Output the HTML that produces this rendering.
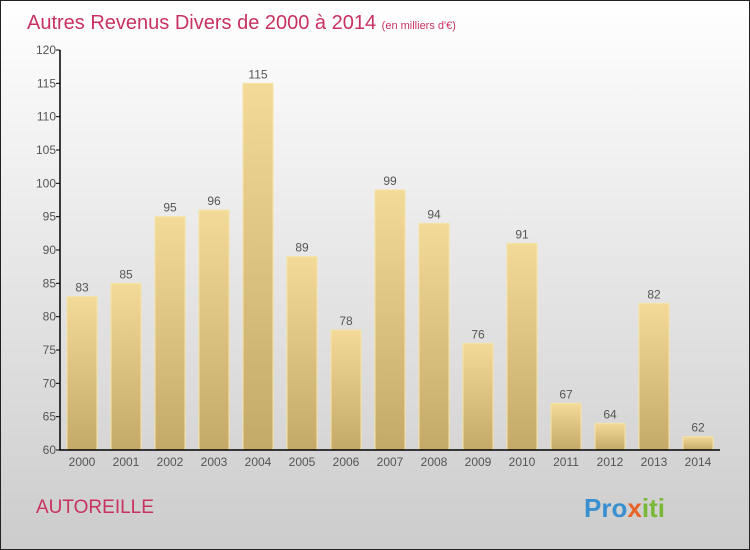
<!DOCTYPE html>
<html><head><meta charset="utf-8"><style>
body{margin:0}
svg{display:block;font-family:"Liberation Sans",sans-serif}
</style></head><body>
<svg id="c" width="750" height="550" xmlns="http://www.w3.org/2000/svg">
<defs>
<linearGradient id="bg" x1="0" y1="0" x2="0" y2="1"><stop offset="0" stop-color="#ffffff"/><stop offset="1" stop-color="#cccccc"/></linearGradient>
<linearGradient id="bar" x1="0" y1="0" x2="0" y2="1"><stop offset="0" stop-color="#f3da98"/><stop offset="1" stop-color="#c4aa68"/></linearGradient>
</defs>
<rect x="0.5" y="0.5" width="749" height="549" fill="url(#bg)" stroke="#222"/>
<text x="27" y="29" font-size="20" fill="#c8325f">Autres Revenus Divers de 2000 à 2014 <tspan font-size="11">(en milliers d'€)</tspan></text>
<g id="bars"></g>
<g id="axes"></g>
<text x="36" y="513" font-size="19" fill="#c8325f">AUTOREILLE</text>
<text x="584" y="517" font-size="26" font-weight="bold" fill="#3a8fd0">Pro<tspan fill="#e8632a">x</tspan><tspan fill="#7ab83a">iti</tspan></text>
</svg>
<script>
const years=["2000","2001","2002","2003","2004","2005","2006","2007","2008","2009","2010","2011","2012","2013","2014"];
const values=[83,85,95,96,115,89,78,99,94,76,91,67,64,82,62];
const yTicks=[60,65,70,75,80,85,90,95,100,105,110,115,120];
const NS="http://www.w3.org/2000/svg";
const y=v=>450-(v-60)*400/60;
const x=i=>82+i*44;
function mk(t,a,p){const e=document.createElementNS(NS,t);for(const k in a)e.setAttribute(k,a[k]);p.appendChild(e);return e;}
const gb=document.getElementById('bars'),ga=document.getElementById('axes');
values.forEach((v,i)=>{
 const r=mk('rect',{x:x(i)-15,y:y(v),width:30,height:450-y(v),fill:'url(#bar)',stroke:'#f5e3a8','stroke-width':1},gb);
 
 
 const t=mk('text',{x:x(i),y:y(v)-5,'text-anchor':'middle','font-size':12,fill:'#555'},gb);
 t.textContent=v;
 
 
 const yl=mk('text',{x:x(i),y:466,'text-anchor':'middle','font-size':12,fill:'#555'},ga);
 yl.textContent=years[i];
 
 
});
const ax=mk('path',{d:'M60 50V450H720',stroke:'#000',fill:'none','stroke-width':1.5},ga);


yTicks.forEach(v=>{
 mk('line',{x1:56,x2:60,y1:y(v),y2:y(v),stroke:'#000'},ga);
 const t=mk('text',{x:56,y:y(v)+4,'text-anchor':'end','font-size':12,fill:'#555'},ga);
 t.textContent=v;
 
 
});
</script>
</body></html>
